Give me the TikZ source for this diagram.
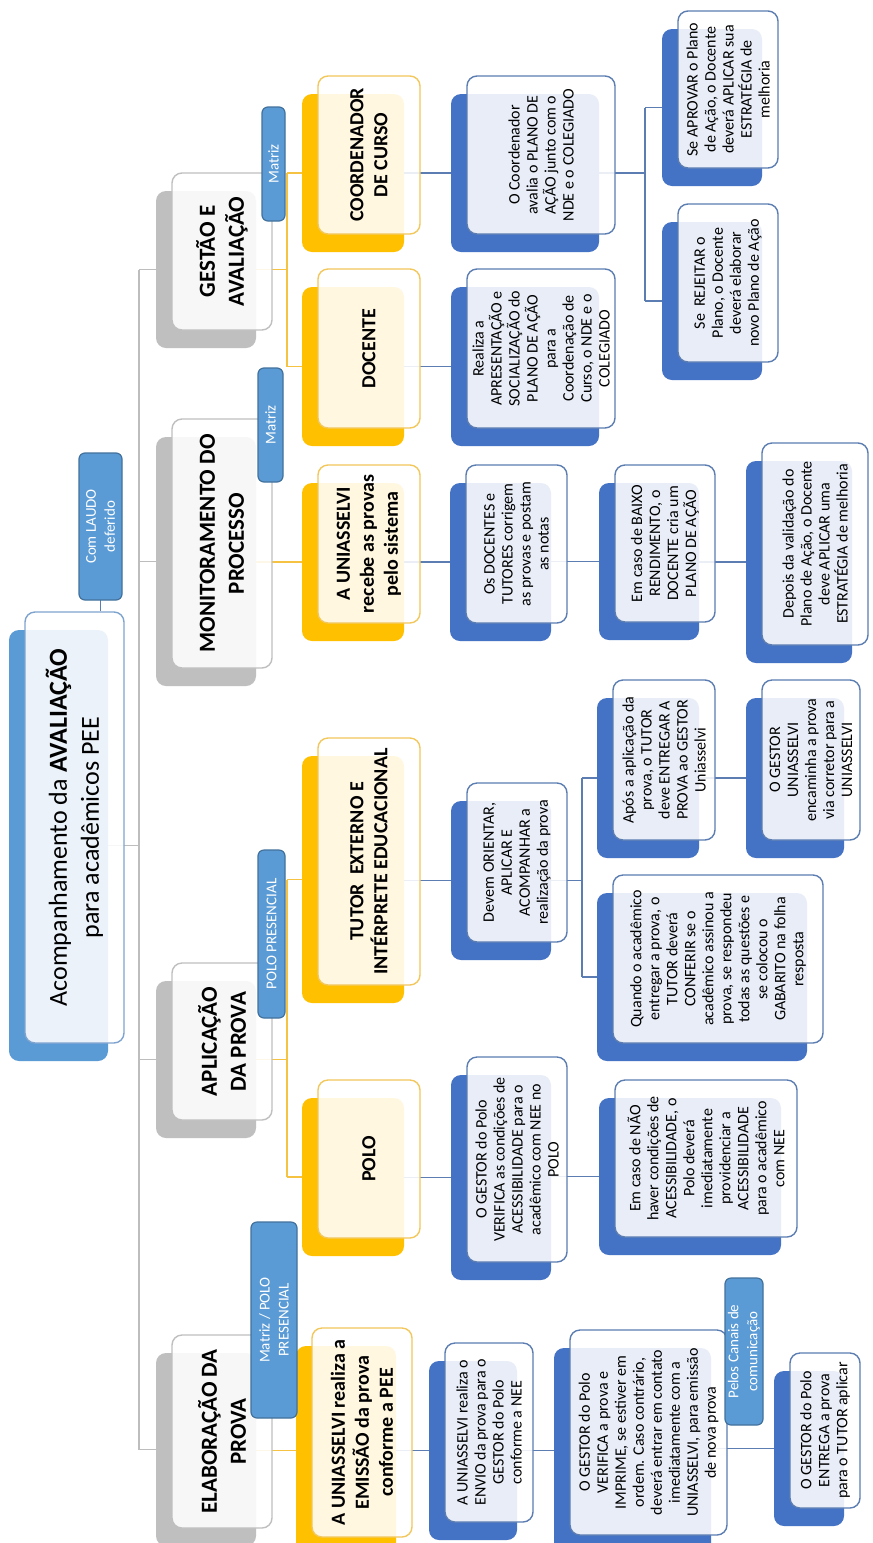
\documentclass[tikz,border=0pt]{standalone}
\usepackage{fontspec}
\setmainfont{Carlito}
\usetikzlibrary{backgrounds}
\definecolor{cGrey}{HTML}{BFBFBF}
\definecolor{cYel}{HTML}{FFC000}
\definecolor{cBlu}{HTML}{4472C4}
\definecolor{cRoot}{HTML}{5B9BD5}
\definecolor{cTagB}{HTML}{41719C}
\definecolor{cYelB}{HTML}{F2C75C}
\definecolor{cBluB}{HTML}{5B7DB1}
\definecolor{cRootB}{HTML}{7FA3CF}
\definecolor{cLineG}{HTML}{BDBDBD}
\definecolor{cLineY}{HTML}{F5C242}
\definecolor{cLineB}{HTML}{5B7DB1}
\tikzset{
  every node/.style={rotate=90, align=center, inner sep=1pt},
  frontbase/.style={rectangle, rounded corners=5pt, fill=white, fill opacity=0.88, text opacity=1, line width=0.7pt},
  rootsh/.style={rectangle, rounded corners=5pt, fill=cRoot},
  rootfr/.style={frontbase, draw=cRootB, font=\fontsize{13}{16}\selectfont},
  grysh/.style={rectangle, rounded corners=5pt, fill=cGrey},
  gryfr/.style={frontbase, draw=cGrey, font=\bfseries\fontsize{11.5}{14.5}\selectfont},
  yelsh/.style={rectangle, rounded corners=5pt, fill=cYel},
  yelfr/.style={frontbase, draw=cYelB, font=\bfseries\fontsize{10}{12}\selectfont},
  blush/.style={rectangle, rounded corners=5pt, fill=cBlu},
  blufr/.style={frontbase, draw=cBluB, font=\fontsize{8}{9}\selectfont},
  tagbox/.style={rectangle, rounded corners=3pt, fill=cRoot, draw=cTagB, line width=0.6pt, text=white, font=\fontsize{7.5}{9.5}\selectfont},
  gcon/.style={draw=cLineG, line width=0.8pt},
  ycon/.style={draw=cLineY, line width=0.8pt},
  bcon/.style={draw=cLineB, line width=0.8pt},
}
\newcommand\mkbox[7]{%
  \pgfmathsetmacro\mkW{(#6-#5)*0.5}%
  \pgfmathsetmacro\mkH{(#4-#3)*0.5}%
  \node[#2sh, minimum width=\mkW pt, minimum height=\mkH pt] (#1S) at ({(#3+#4)/2-16},{(#5+#6)/2+18}) {};%
  \node[#2fr, minimum width=\mkW pt, minimum height=\mkH pt] (#1) at ({(#3+#4)/2},{(#5+#6)/2}) {#7};%
}
\newcommand\mktag[6]{%
  \pgfmathsetmacro\mkW{(#5-#4)*0.5}%
  \pgfmathsetmacro\mkH{(#3-#2)*0.5}%
  \node[tagbox, minimum width=\mkW pt, minimum height=\mkH pt] (#1) at ({(#2+#3)/2},{(#4+#5)/2}) {#6};%
}
\begin{document}
\begin{tikzpicture}[x=0.5pt, y=-0.5pt]
\useasboundingbox (0,0) rectangle (873,1543);
% boxes
\mkbox{root}{root}{25}{124}{612}{1043}{Acompanhamento da \textbf{AVALIAÇÃO}\\para acadêmicos PEE}
\mkbox{gest}{gry}{172}{272}{173}{330}{GESTÃO E\\AVALIAÇÃO}
\mkbox{moni}{gry}{172}{272}{419}{668}{MONITORAMENTO DO\\PROCESSO}
\mkbox{apli}{gry}{172}{272}{963}{1120}{APLICAÇÃO\\DA PROVA}
\mkbox{elab}{gry}{172}{272}{1335}{1528}{ELABORAÇÃO DA\\PROVA}
\mkbox{coor}{yel}{318}{420}{76}{234}{COORDENADOR\\DE CURSO}
\mkbox{doce}{yel}{318}{420}{269}{428}{DOCENTE}
\mkbox{rece}{yel}{318}{420}{465}{623}{A UNIASSELVI\\recebe as provas\\pelo sistema}
\mkbox{tuto}{yel}{318}{420}{738}{985}{TUTOR\ \ EXTERNO E\\INTÉRPRETE EDUCACIONAL}
\mkbox{polo}{yel}{318}{420}{1080}{1238}{POLO}
\mkbox{emis}{yel}{312}{412}{1328}{1537}{A UNIASSELVI realiza a\\EMISSÃO da prova\\conforme a PEE}
\mkbox{cava}{blu}{467}{615}{76}{234}{O Coordenador\\avalia o PLANO DE\\AÇÃO junto com o\\NDE e o COLEGIADO}
\mkbox{real}{blu}{467}{615}{269}{428}{Realiza a\\APRESENTAÇÃO e\\SOCIALIZAÇÃO do\\PLANO DE AÇÃO\\para a\\Coordenação de\\Curso, o NDE e o\\COLEGIADO}
\mkbox{odoc}{blu}{466}{567}{465}{623}{Os DOCENTES e\\TUTORES corrigem\\as provas e postam\\as notas}
\mkbox{deve}{blu}{467}{567}{783}{942}{Devem ORIENTAR,\\APLICAR E\\ACOMPANHAR a\\realização da prova}
\mkbox{gver}{blu}{467}{567}{1057}{1262}{O GESTOR do Polo\\VERIFICA as condições de\\ACESSIBILIDADE para o\\acadêmico com NEE no\\POLO}
\mkbox{envi}{blu}{445}{533}{1343}{1522}{A UNIASSELVI realiza o\\ENVIO da prova para o\\GESTOR do Polo\\conforme a NEE}
\mkbox{apro}{blu}{678}{778}{11}{168}{Se APROVAR o Plano\\de Ação, o Docente\\deverá APLICAR sua\\ESTRATÉGIA de\\melhoria}
\mkbox{reje}{blu}{678}{778}{204}{362}{Se\ \ REJEITAR o\\Plano, o Docente\\deverá elaborar\\novo Plano de Ação}
\mkbox{baix}{blu}{615}{715}{465}{622}{Em caso de BAIXO\\RENDIMENTO, o\\DOCENTE cria um\\PLANO DE AÇÃO}
\mkbox{depo}{blu}{762}{868}{443}{645}{Depois da validação do\\Plano de Ação, o Docente\\deve APLICAR uma\\ESTRATÉGIA de melhoria}
\mkbox{apos}{blu}{613}{715}{680}{840}{Após a aplicação da\\prova, o TUTOR\\deve ENTREGAR A\\PROVA ao GESTOR\\Uniasselvi}
\mkbox{guni}{blu}{762}{860}{680}{840}{O GESTOR\\UNIASSELVI\\encaminha a prova\\via corretor para a\\UNIASSELVI}
\mkbox{quan}{blu}{613}{823}{875}{1043}{Quando o acadêmico\\entregar a prova, o\\TUTOR deverá\\CONFERIR se o\\acadêmico assinou a\\prova, se respondeu\\todas as questões e\\se colocou o\\GABARITO na folha\\resposta}
\mkbox{nao}{blu}{615}{797}{1080}{1237}{Em caso de NÃO\\haver condições de\\ACESSIBILIDADE, o\\Polo deverá\\imediatamente\\providenciar a\\ACESSIBILIDADE\\para o acadêmico\\com NEE}
\mkbox{gimp}{blu}{570}{727}{1330}{1535}{O GESTOR do Polo\\VERIFICA a prova e\\IMPRIME, se estiver em\\ordem. Caso contrário,\\deverá entrar em contato\\imediatamente com a\\UNIASSELVI, para emissão\\de nova prova}
\mkbox{entr}{blu}{790}{860}{1353}{1508}{O GESTOR do Polo\\ENTREGA a prova\\para o TUTOR aplicar}
% tags
\mktag{laudo}{79}{122}{453}{600}{Com LAUDO\\deferido}
\mktag{mat1}{262}{285}{107}{221}{Matriz}
\mktag{mat2}{258}{283}{368}{482}{Matriz}
\mktag{polp}{258}{285}{850}{1018}{POLO PRESENCIAL}
\mktag{mpol}{251}{297}{1222}{1418}{Matriz / POLO\\PRESENCIAL}
\mktag{cana}{725}{763}{1278}{1425}{Pelos Canais de\\comunicação}
% connectors
\begin{scope}[on background layer]
\fill[white] (0,0) rectangle (873,1543);
\coordinate (tk0) at (139,0);
\coordinate (tk1) at (287,0);
\coordinate (tk2) at (645,0);
\coordinate (tk3) at (582,0);
\draw[gcon] (rootS.center) -- (rootS.center -| tk0);
\draw[gcon] (gestS.center -| tk0) -- (elabS.center -| tk0);
\draw[gcon] (gestS.center -| tk0) -- (gestS.center);
\draw[gcon] (moniS.center -| tk0) -- (moniS.center);
\draw[gcon] (apliS.center -| tk0) -- (apliS.center);
\draw[gcon] (elabS.center -| tk0) -- (elabS.center);
\draw[bcon] (laudo.center) -- (laudo.center |- root.east);
\draw[ycon] (gestS.center) -- (gestS.center -| tk1);
\draw[ycon] (coorS.center -| tk1) -- (doceS.center -| tk1);
\draw[ycon] (coorS.center -| tk1) -- (coorS.center);
\draw[ycon] (doceS.center -| tk1) -- (doceS.center);
\draw[ycon] (receS.center -| moniS.center) -- (receS.center);
\draw[ycon] (apliS.center) -- (apliS.center -| tk1);
\draw[ycon] (tutoS.center -| tk1) -- (poloS.center -| tk1);
\draw[ycon] (tutoS.center -| tk1) -- (tutoS.center);
\draw[ycon] (poloS.center -| tk1) -- (poloS.center);
\draw[ycon] (emisS.center -| elabS.center) -- (emisS.center);
\draw[bcon] (cavaS.center -| coorS.center) -- (cavaS.center);
\draw[bcon] (realS.center -| doceS.center) -- (realS.center);
\draw[bcon] (odocS.center -| receS.center) -- (odocS.center);
\draw[bcon] (deveS.center -| tutoS.center) -- (deveS.center);
\draw[bcon] (gverS.center -| poloS.center) -- (gverS.center);
\draw[bcon] (enviS.center -| emisS.center) -- (enviS.center);
\draw[bcon] (cavaS.center) -- (cavaS.center -| tk2);
\draw[bcon] (aproS.center -| tk2) -- (rejeS.center -| tk2);
\draw[bcon] (aproS.center -| tk2) -- (aproS.center);
\draw[bcon] (rejeS.center -| tk2) -- (rejeS.center);
\draw[bcon] (deveS.center) -- (deveS.center -| tk3);
\draw[bcon] (aposS.center -| tk3) -- (quanS.center -| tk3);
\draw[bcon] (aposS.center -| tk3) -- (aposS.center);
\draw[bcon] (quanS.center -| tk3) -- (quanS.center);
\draw[bcon] (baixS.center -| odocS.center) -- (baixS.center);
\draw[bcon] (depoS.center -| baixS.center) -- (depoS.center);
\draw[bcon] (guniS.center -| aposS.center) -- (guniS.center);
\draw[bcon] (naoS.center -| gverS.center) -- (naoS.center);
\draw[bcon] (gimpS.center -| enviS.center) -- (gimpS.center);
\draw[bcon] (entrS.center -| gimpS.center) -- (entrS.center);
\end{scope}
\end{tikzpicture}
\end{document}
